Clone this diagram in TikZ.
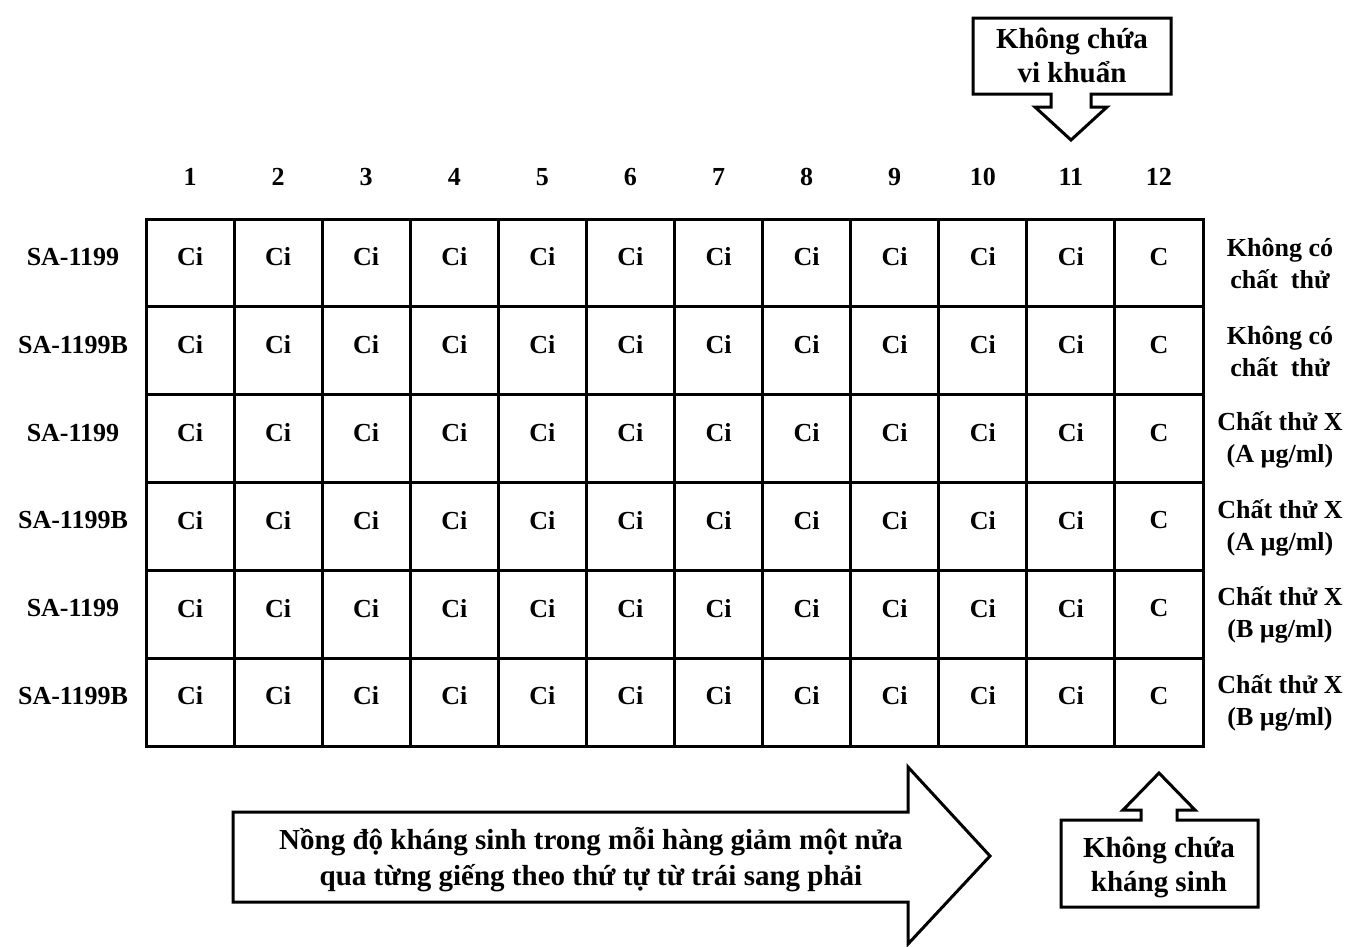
\documentclass[tikz,border=0pt]{standalone}
\usepackage{fontspec}
\setmainfont{Liberation Serif}
\begin{document}
\begin{tikzpicture}[x=1pt,y=-1pt,
  every node/.style={font=\fontsize{26}{32}\selectfont\bfseries, inner sep=0pt, align=center},
  big text/.style={font=\fontsize{29}{34}\selectfont\bfseries},
  shape line/.style={draw=black, line width=3pt, line join=miter, fill=white},
  grid line/.style={draw=black, line width=3pt}]
\useasboundingbox[fill=white] (0,0) rectangle (1346,946);
% grid
\draw[grid line] (146,219) rectangle (1203,746);
\foreach \i in {1,...,11} \draw[grid line] ({146+88.083*\i},219) -- ({146+88.083*\i},746);
\foreach \j in {1,...,5} \draw[grid line] (146,{219+87.833*\j}) -- (1203,{219+87.833*\j});
% column numbers
\foreach \c in {1,...,12} \node (col\c) at ({146+88.083*(\c-0.5)},177) {\c};
% cells
\foreach \r in {1,...,6} {
  \foreach \c in {1,...,11} \node (cell\r-\c) at ({146+88.083*(\c-0.5)},{219+87.833*(\r-0.5)-6}) {Ci};
  \node (cell\r-12) at ({146+88.083*11.5},{219+87.833*(\r-0.5)-6}) {C};
}
% row labels
\foreach \r/\t in {1/SA-1199,2/SA-1199B,3/SA-1199,4/SA-1199B,5/SA-1199,6/SA-1199B}
  \node (row\r) at (73,{219+87.833*(\r-0.5)-6}) {\t};
% right labels
\foreach \r/\t in {1/{Không có\\chất\ \ thử},2/{Không có\\chất\ \ thử},3/{Chất thử X\\(A µg/ml)},4/{Chất thử X\\(A µg/ml)},5/{Chất thử X\\(B µg/ml)},6/{Chất thử X\\(B µg/ml)}}
  \node (lab\r) at (1280,{219+87.833*(\r-0.5)+1}) {\t};
% top callout
\draw[shape line] (973,18) -- (1171,18) -- (1171,94) -- (1091,94) -- (1091,107) -- (1107,107) -- (1071,140) -- (1035,107) -- (1051,107) -- (1051,94) -- (973,94) -- cycle;
\node[big text] (topcall) at (1072,55) {Không chứa\\vi khuẩn};
% bottom right callout
\draw[shape line] (1061,820) -- (1141,820) -- (1141,810) -- (1123,810) -- (1159,773) -- (1195,810) -- (1177,810) -- (1177,820) -- (1258,820) -- (1258,907) -- (1061,907) -- cycle;
\node[big text] (botcall) at (1159,867) {Không chứa\\kháng sinh};
% big arrow
\draw[shape line] (233,812) -- (908,812) -- (908,767) -- (990,856) -- (908,944) -- (908,902) -- (233,902) -- cycle;
\node[font=\fontsize{29}{36}\selectfont\bfseries] (bigarrow) at (591,860) {Nồng độ kháng sinh trong mỗi hàng giảm một nửa\\qua từng giếng theo thứ tự từ trái sang phải};
\end{tikzpicture}
\end{document}
